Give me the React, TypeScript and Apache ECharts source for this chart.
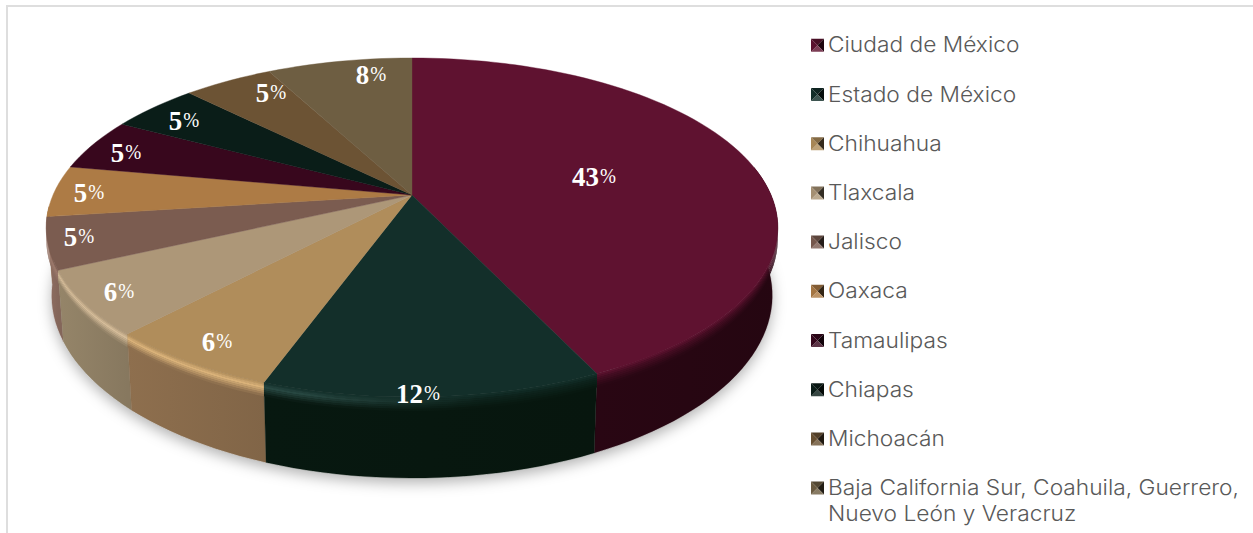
import React, { useEffect, useRef } from "react";
import * as echarts from "echarts";

const categories = [
  "Ciudad de México",
  "Estado de México",
  "Chihuahua",
  "Tlaxcala",
  "Jalisco",
  "Oaxaca",
  "Tamaulipas",
  "Chiapas",
  "Michoacán",
  "Baja California Sur, Coahuila, Guerrero,\nNuevo León y Veracruz",
];
const values = [43.0, 12.49, 6.45, 6.1, 4.9, 4.9, 5.0, 4.7, 4.75, 7.71];
const topColors = ["#5F1230", "#132F2A", "#B08D5B", "#AD9778", "#7B5C50", "#AD7B45", "#38071D", "#0A1D18", "#6C5334", "#6E5E42"];
const wallColors = ["#270612", "#07170F", "#86694A", "#8D7D63", "#8A6A5E", "#8A6236", "#240512", "#06120F", "#4E3C25", "#4F4430"];
const labelPositions = [[594, 177], [418, 394], [217, 342], [119, 292], [79, 237], [89, 193], [126, 153], [184, 121], [271, 93], [371, 75]];

// projection of the tilted disc
const CX = 412, CY = 195, K = 0.1917, A = 163.3, B = 359, DEPTH = 65.5;
const RAD = Math.PI / 180;

type RGB = [number, number, number];
const rgb = (h: string): RGB => [parseInt(h.slice(1, 3), 16), parseInt(h.slice(3, 5), 16), parseInt(h.slice(5, 7), 16)];
const css = (c: RGB) => `rgb(${c.map((n) => Math.round(Math.min(255, Math.max(0, n)))).join(",")})`;
const mix = (a: RGB, b: RGB, t: number): RGB => [a[0] + (b[0] - a[0]) * t, a[1] + (b[1] - a[1]) * t, a[2] + (b[2] - a[2]) * t];
const scale = (a: RGB, s: number): RGB => [a[0] * s, a[1] * s, a[2] * s];

const rim = (deg: number) => {
  const u = Math.sin(deg * RAD), v = -Math.cos(deg * RAD), w = 1 - K * v;
  return { x: CX + (B * u) / w, y: CY + (A * v) / w, w };
};
const arc = (a: number, b: number, step = 2) => {
  const n = Math.max(1, Math.ceil(Math.abs(b - a) / step));
  return Array.from({ length: n + 1 }, (_, i) => a + ((b - a) * i) / n);
};
const total = values.reduce((s, v) => s + v, 0);
const bounds: number[] = [0];
values.forEach((v) => bounds.push(bounds[bounds.length - 1] + (v / total) * 360));

const lower = (deg: number, d: number, sx = 1) => {
  const p = rim(deg);
  return [CX + (p.x - CX) * sx, p.y + d / p.w];
};

const leftness = (x: number) => Math.max(0, Math.min(1, (480 - x) / 180));
const bevelGradient = (top: RGB, wall: RGB, p: number) => {
  const stops = [40, 300, 360, 420, 480, 780].map((x) => {
    const l = leftness(x);
    const lit: RGB = [top[0] * 1.14 + 18, top[1] * 1.14 + 18, top[2] * 1.14 + 18];
    const hl = mix(mix(top, wall, 0.5), lit, l);
    const c = p < 0.35 ? mix(top, hl, p / 0.35) : mix(hl, wall, (p - 0.35) / 0.65);
    return { offset: (x - 40) / 740, color: css(c) };
  });
  return new echarts.graphic.LinearGradient(40, 0, 780, 0, stops, true);
};

const renderSlice = (params: any) => {
  const i = params.dataIndex;
  const a = bounds[i], b = bounds[i + 1];
  const top = rgb(topColors[i]), wall = rgb(wallColors[i]);
  const children: any[] = [];

  if (i === 0) {
    children.push({
      type: "polygon",
      z2: 0,
      shape: { points: arc(0, 360, 3).map((t) => lower(t, DEPTH, 0.985)) },
      style: { fill: "#d0d0d0", shadowBlur: 14, shadowColor: "rgba(0,0,0,0.3)", shadowOffsetY: 5 },
    });
  }

  // front wall
  const fa = Math.max(a, 80), fb = Math.min(b, 266);
  if (fb > fa) {
    const ang = arc(fa, fb);
    const pts = [...ang.map((t) => lower(t, 0)), ...[...ang].reverse().map((t) => lower(t, DEPTH, 0.985))];
    const xs = ang.map((t) => rim(t).x);
    const x0 = Math.min(...xs), x1 = Math.max(...xs);
    children.push({
      type: "polygon",
      z2: 10 + Math.round(-Math.cos(((fa + fb) / 2) * RAD) * 10),
      shape: { points: pts },
      style: {
        fill: new echarts.graphic.LinearGradient(
          x0, 0, Math.max(x1, x0 + 1), 0,
          [{ offset: 0, color: css(scale(wall, 1.06)) }, { offset: 1, color: css(scale(wall, 0.96)) }],
          true
        ),
        stroke: css(wall),
        lineWidth: 0.3,
      },
    });
    // bevel between the top face and the wall
    const BANDS = 7, H = 11;
    for (let n = 0; n < BANDS; n++) {
      const d0 = (n / BANDS) * H, d1 = ((n + 1) / BANDS) * H;
      children.push({
        type: "polygon",
        z2: 25,
        shape: { points: [...ang.map((t) => lower(t, d0)), ...[...ang].reverse().map((t) => lower(t, d1 + 0.3))] },
        style: { fill: bevelGradient(top, wall, (n + 0.5) / BANDS) },
      });
    }
  }

  // top face
  children.push({
    type: "polygon",
    z2: 40,
    shape: { points: [[CX, CY], ...arc(a, b).map((t) => lower(t, 0))] },
    style: { fill: topColors[i], stroke: topColors[i], lineWidth: 0.4 },
  });

  // value label
  children.push({
    type: "text",
    z2: 60,
    x: labelPositions[i][0],
    y: labelPositions[i][1],
    scaleX: 0.96,
    style: {
      text: `{n|${Math.round(values[i])}}{p|%}`,
      align: "center",
      verticalAlign: "middle",
      rich: {
        n: { fontFamily: "Liberation Serif", fontWeight: "bold", fontSize: 28, fill: "#ffffff" },
        p: { fontFamily: "Liberation Serif", fontSize: 20, fill: "#ffffff", padding: [0, 0, 2, 1] },
      },
    },
  });
  return { type: "group", children };
};

const LEGEND_X = 811, LEGEND_Y = 45.3, LEGEND_STEP = 49.2, ICON = 13, TEXT_X = 828;

const legendItem = (name: string, i: number) => {
  const y = LEGEND_Y + LEGEND_STEP * i;
  const base = rgb(topColors[i]);
  const x0 = LEGEND_X, y0 = y - ICON / 2, c = [x0 + ICON / 2, y];
  const tri = (p: number[][], fill: string) => ({ type: "polygon", shape: { points: p }, style: { fill } });
  const lines = name.split("\n");
  return [
    tri([[x0, y0], [x0 + ICON, y0], c], css(mix(base, [0, 0, 0], 0.25))),
    tri([[x0 + ICON, y0], [x0 + ICON, y0 + ICON], c], css(mix(base, [0, 0, 0], 0.7))),
    tri([[x0, y0 + ICON], [x0 + ICON, y0 + ICON], c], css(mix(base, [255, 255, 255], 0.18))),
    tri([[x0, y0], [x0, y0 + ICON], c], css(mix(base, [0, 0, 0], 0.05))),
    ...lines.map((line, j) => ({
      type: "text",
      x: TEXT_X,
      y: y - 0.5 + j * 26,
      scaleX: 1.083,
      style: { text: line, fontFamily: "Inter", fontWeight: 300, fontSize: 21, fill: "#595959", textAlign: "left", textVerticalAlign: "middle" },
    })),
  ];
};

export default function App() {
  const ref = useRef<HTMLDivElement>(null);
  useEffect(() => {
    const chart = echarts.init(ref.current!, undefined, { renderer: "svg" });
    chart.setOption({
      animation: false,
      backgroundColor: "#ffffff",
      tooltip: { show: false },
      series: [
        {
          type: "custom",
          coordinateSystem: "none",
          silent: true,
          renderItem: renderSlice,
          data: categories.map((name, i) => ({ name, value: values[i] })),
        },
      ],
      graphic: [
        {
          type: "rect",
          shape: { x: 7, y: 6, width: 1400, height: 700 },
          style: { fill: "none", stroke: "#dedede", lineWidth: 2 },
          silent: true,
        },
        ...categories.flatMap(legendItem),
      ],
    });
    return () => chart.dispose();
  }, []);
  return <div ref={ref} style={{ position: "absolute", left: 0, top: 0, width: 1253, height: 533 }} />;
}
